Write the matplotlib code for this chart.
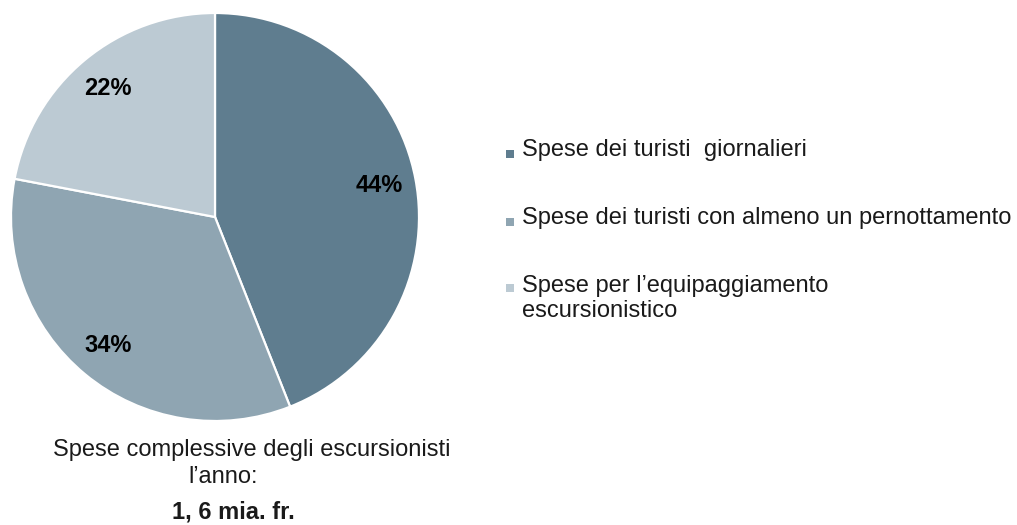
import matplotlib
matplotlib.use("Agg")
import matplotlib.pyplot as plt
from matplotlib.patches import Rectangle

plt.rcParams['font.family'] = ['Liberation Sans', 'DejaVu Sans']

categories = ["Spese dei turisti  giornalieri",
              "Spese dei turisti con almeno un pernottamento",
              "Spese per l\u2019equipaggiamento\nescursionistico"]
values = [44, 34, 22]
colors = ["#5F7D8F", "#8FA5B2", "#BCCAD3"]
caption = ["Spese complessive degli escursionisti", "l\u2019anno:"]
total_label = "1, 6 mia. fr."

W, H = 1017, 525
fig = plt.figure(figsize=(W / 100, H / 100), dpi=100)

cx, cy, R = 215, 217, 204
m = 1.04
ax = fig.add_axes([(cx - R * m) / W, (H - cy - R * m) / H, 2 * R * m / W, 2 * R * m / H])
wedges, texts, autotexts = ax.pie(values, colors=colors, startangle=90, counterclock=False,
                                  autopct=lambda p: f"{p:.0f}%", pctdistance=0.82,
                                  wedgeprops=dict(edgecolor="white", linewidth=1.6),
                                  textprops=dict(fontsize=17, fontweight="bold", color="black"))
ax.set_xlim(-m, m)
ax.set_ylim(-m, m)
ax.axis("off")

FS = 17
TXT = "#1a1a1a"

# legend drawn manually
baselines = [156, 224, 292]
square_centers = [154, 222, 288]
for lab, col, yb, ys in zip(categories, colors, baselines, square_centers):
    fig.patches.append(Rectangle((506 / W, (H - ys - 4) / H), 8 / W, 8 / H,
                                 transform=fig.transFigure, facecolor=col, edgecolor="none"))
    for k, line in enumerate(lab.split("\n")):
        fig.text(522 / W, (H - yb - 25 * k) / H, line, fontsize=FS, va="baseline", ha="left", color=TXT)

fig.text(252 / W, (H - 456) / H, caption[0], fontsize=FS, ha="center", va="baseline", color=TXT)
fig.text(223 / W, (H - 483) / H, caption[1], fontsize=FS, ha="center", va="baseline", color=TXT)
fig.text(233 / W, (H - 519) / H, total_label, fontsize=FS, fontweight="bold", ha="center", va="baseline", color=TXT)

fig.savefig("out.png", dpi=100, facecolor="white")
